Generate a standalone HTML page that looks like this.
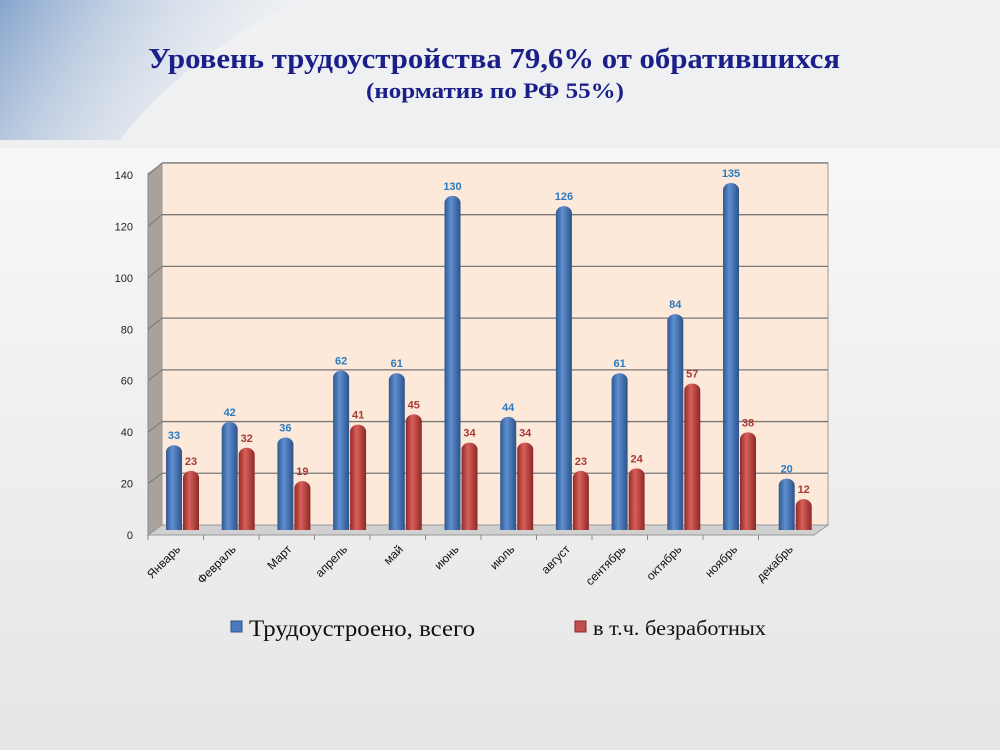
<!DOCTYPE html>
<html><head><meta charset="utf-8"><style>
body{margin:0;width:1000px;height:750px;overflow:hidden;font-family:"Liberation Sans",sans-serif;}
</style></head><body>
<svg width="1000" height="750" xmlns="http://www.w3.org/2000/svg">
<defs>
<linearGradient id="bg" x1="0" y1="0" x2="0" y2="1"><stop offset="0" stop-color="#f0f1f3"/><stop offset="1" stop-color="#e8e9eb"/></linearGradient>
<linearGradient id="low" x1="0" y1="0" x2="0" y2="1"><stop offset="0" stop-color="#f7f7f7"/><stop offset="1" stop-color="#e6e6e6"/></linearGradient>
<linearGradient id="sw" x1="0" y1="0" x2="1" y2="0.3"><stop offset="0" stop-color="#7a9cc8"/><stop offset="1" stop-color="#dfe6f0" stop-opacity="0"/></linearGradient>
<linearGradient id="bl" x1="0" y1="0" x2="1" y2="0"><stop offset="0" stop-color="#2f5891"/><stop offset="0.4" stop-color="#5f8fd0"/><stop offset="1" stop-color="#2c528a"/></linearGradient>
<linearGradient id="rd" x1="0" y1="0" x2="1" y2="0"><stop offset="0" stop-color="#8f2a27"/><stop offset="0.4" stop-color="#d9605b"/><stop offset="1" stop-color="#8c2826"/></linearGradient>
</defs>
<rect width="1000" height="750" fill="url(#bg)"/>
<path d="M0 0 H300 Q180 60 120 140 L0 140 Z" fill="url(#sw)" opacity="0.9"/>
<rect x="0" y="148" width="1000" height="602" fill="url(#low)"/>
<text x="148" y="68" textLength="692" lengthAdjust="spacingAndGlyphs" font-family="Liberation Serif,serif" font-weight="bold" font-size="29" fill="#1a1f8a">Уровень трудоустройства 79,6% от обратившихся</text>
<text x="366" y="98" textLength="258" lengthAdjust="spacingAndGlyphs" font-family="Liberation Serif,serif" font-weight="bold" font-size="22" fill="#1a1f8a">(норматив по РФ 55%)</text>
<g id="chart"></g>
<rect x="231" y="621" width="11" height="11" fill="#4a79bd" stroke="#2c528a"/>
<text x="249" y="636" textLength="226" lengthAdjust="spacingAndGlyphs" font-family="Liberation Serif,serif" font-size="23" fill="#111">Трудоустроено, всего</text>
<rect x="575" y="621" width="11" height="11" fill="#c0504d" stroke="#8c2826"/>
<text x="593" y="635" textLength="173" lengthAdjust="spacingAndGlyphs" font-family="Liberation Serif,serif" font-size="21" fill="#111">в т.ч. безработных</text>
</svg>
<script>
const categories=["Январь","Февраль","Март","апрель","май","июнь","июль","август","сентябрь","октябрь","ноябрь","декабрь"];
const totalValues=[33,42,36,62,61,130,44,126,61,84,135,20];
const unemployedValues=[23,32,19,41,45,34,34,23,24,57,38,12];
const yTicks=[0,20,40,60,80,100,120,140];
const NS="http://www.w3.org/2000/svg";
const g=document.getElementById('chart');
function mk(t,a){const e=document.createElementNS(NS,t);for(const k in a)e.setAttribute(k,a[k]);g.appendChild(e);return e;}
const yBack=v=>525-v*2.586, yFront=v=>535-v*2.571, yBar=v=>530-v*2.57;
const xCat=i=>174+i*55.7;
let e=mk('polygon',{points:"148,173 162,163 162,525 148,535",fill:"#a9a29c"});

e=mk('rect',{x:162,y:163,width:666,height:362,fill:"#fde9d9",stroke:"#999","stroke-width":1});

e=mk('polygon',{points:"148,535 162,525 828,525 814,535",fill:"#d0d0d0",stroke:"#999"});

yTicks.forEach(v=>{
 if(v>0){e=mk('line',{x1:162,x2:828,y1:yBack(v),y2:yBack(v),stroke:"#777","stroke-width":1.3});
 
 mk('line',{x1:148,x2:162,y1:yFront(v),y2:yBack(v),stroke:"#777"});}
 e=mk('text',{x:133,y:yFront(v)+4,"text-anchor":"end","font-size":11,fill:"#222"});e.textContent=v;
 
});
mk('line',{x1:148,x2:148,y1:173,y2:535,stroke:"#888"});
categories.forEach((c,i)=>{
 const x=xCat(i);
 mk('line',{x1:148+i*55.5,x2:148+i*55.5,y1:535,y2:540,stroke:"#888"});
 [[totalValues[i],x,'url(#bl)','#2a7ac0','bar-total'],[unemployedValues[i],x+17,'url(#rd)','#a83a36','bar-unemployed']].forEach(([v,cx,f,tc,nm])=>{
  const top=yBar(v);
  e=mk('path',{d:`M${cx-8} 530 V${top+7} A8 7 0 0 1 ${cx+8} ${top+7} V530 Z`,fill:f});
  
  e=mk('text',{x:cx,y:top-6,"text-anchor":"middle","font-size":11,"font-weight":"bold",fill:tc});e.textContent=v;
  
 });
 e=mk('text',{x:x+7,y:550,"text-anchor":"end","font-size":12,fill:"#111",transform:`rotate(-45 ${x+7} 550)`});e.textContent=c;
 
});
</script>
</body></html>
